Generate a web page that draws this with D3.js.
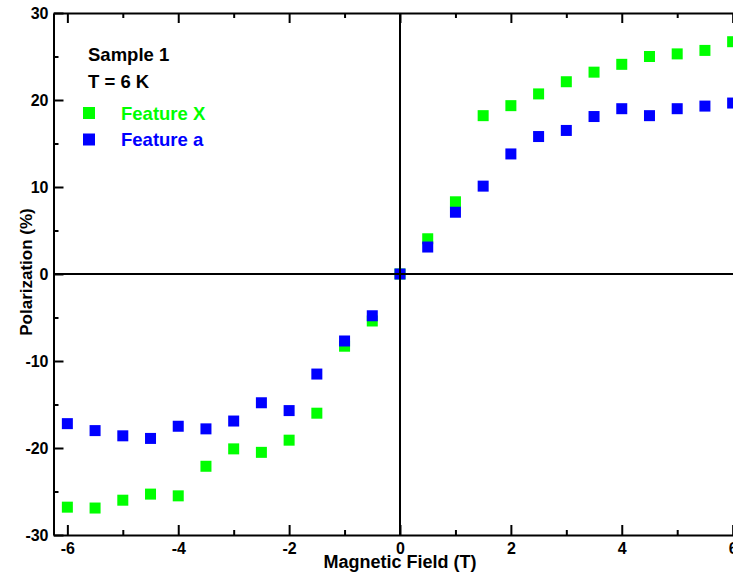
<!DOCTYPE html>
<html>
<head>
<meta charset="utf-8">
<script src="https://cdn.jsdelivr.net/npm/d3@7"></script>
<style>
  body { margin: 0; background: #fff; }
  svg { display: block; font-family: "Liberation Sans", Arial, sans-serif; font-weight: bold; }
</style>
</head>
<body>
<div id="chart"></div>
<script>
// field values (T)
const fields = [-6, -5.5, -5, -4.5, -4, -3.5, -3, -2.5, -2, -1.5, -1, -0.5, 0,
  0.5, 1, 1.5, 2, 2.5, 3, 3.5, 4, 4.5, 5, 5.5, 6];
// polarization (%)
const featureX = [-26.8, -26.9, -26.0, -25.3, -25.5, -22.1, -20.1, -20.5, -19.1, -16.0, -8.3, -5.4, 0,
  4.05, 8.3, 18.2, 19.35, 20.7, 22.1, 23.2, 24.1, 25.0, 25.3, 25.7, 26.7];
const featureA = [-17.2, -18.0, -18.6, -18.9, -17.5, -17.8, -16.9, -14.8, -15.7, -11.5, -7.7, -4.8, 0,
  3.1, 7.1, 10.1, 13.8, 15.8, 16.5, 18.1, 19.0, 18.2, 19.0, 19.3, 19.65];
const xMajor = [-6, -4, -2, 0, 2, 4, 6];
const xMinor = [-5, -3, -1, 1, 3, 5];
const yMajor = [-30, -20, -10, 0, 10, 20, 30];
const yMinor = [-25, -15, -5, 5, 15, 25];

const series = [
  { name: 'Feature X', color: '#00ff00', values: featureX },
  { name: 'Feature a', color: '#0000ff', values: featureA },
];

const width = 733, height = 576;
const x = d3.scaleLinear().domain([-6.25, 6.25]).range([53.5, 746.5]);
const y = d3.scaleLinear().domain([-30, 30]).range([535, 13]);
const sq = 11;
const fmt = d => String(d); // plain hyphen minus, like the original

const svg = d3.select('#chart').append('svg')
  .attr('width', width)
  .attr('height', height);

// markers (green first, blue on top)
series.forEach(s => {
  svg.append('g').selectAll('rect')
    .data(fields.map((f, i) => ({ f, v: s.values[i] })))
    .join('rect')
    .attr('x', d => x(d.f) - sq / 2)
    .attr('y', d => y(d.v) - sq / 2)
    .attr('width', sq)
    .attr('height', sq)
    .attr('fill', s.color);
});

// zero lines
svg.append('line')
  .attr('x1', x(0)).attr('x2', x(0))
  .attr('y1', y(30)).attr('y2', y(-30))
  .attr('stroke', '#000').attr('stroke-width', 2);
svg.append('line')
  .attr('x1', x.range()[0]).attr('x2', x.range()[1])
  .attr('y1', y(0)).attr('y2', y(0))
  .attr('stroke', '#000').attr('stroke-width', 2);

// axes: ticks point into the plot
function styleAxis(g) {
  g.selectAll('.domain').attr('stroke', '#000').attr('stroke-width', 2);
  g.selectAll('.tick line').attr('stroke', '#000').attr('stroke-width', 2);
  g.selectAll('.tick text').attr('fill', '#000')
    .attr('font-size', 16).attr('font-weight', 'bold')
    .attr('font-family', '"Liberation Sans", Arial, sans-serif');
}

const gBottom = svg.append('g').attr('transform', `translate(0,${y(-30)})`)
  .call(d3.axisBottom(x).tickValues(xMajor).tickSizeInner(-10).tickSizeOuter(0).tickFormat(fmt));
gBottom.call(styleAxis);
gBottom.selectAll('.tick text').attr('dy', '0.75em').attr('y', 7);
svg.append('g').attr('transform', `translate(0,${y(-30)})`)
  .call(d3.axisBottom(x).tickValues(xMinor).tickSizeInner(-5).tickSizeOuter(0).tickFormat(''))
  .call(styleAxis).select('.domain').remove();

const gTop = svg.append('g').attr('transform', `translate(0,${y(30)})`)
  .call(d3.axisTop(x).tickValues(xMajor).tickSizeInner(-10).tickSizeOuter(0).tickFormat(''));
gTop.call(styleAxis);
svg.append('g').attr('transform', `translate(0,${y(30)})`)
  .call(d3.axisTop(x).tickValues(xMinor).tickSizeInner(-5).tickSizeOuter(0).tickFormat(''))
  .call(styleAxis).select('.domain').remove();

const gLeft = svg.append('g').attr('transform', `translate(${x(-6.25)},0)`)
  .call(d3.axisLeft(y).tickValues(yMajor).tickSizeInner(-10).tickSizeOuter(0).tickFormat(fmt));
gLeft.call(styleAxis);
gLeft.selectAll('.tick text').attr('x', -5);
svg.append('g').attr('transform', `translate(${x(-6.25)},0)`)
  .call(d3.axisLeft(y).tickValues(yMinor).tickSizeInner(-5).tickSizeOuter(0).tickFormat(''))
  .call(styleAxis).select('.domain').remove();

// axis titles
svg.append('text')
  .attr('x', 400).attr('y', 568)
  .attr('text-anchor', 'middle')
  .attr('font-size', 18)
  .text('Magnetic Field (T)');
svg.append('text')
  .attr('transform', 'translate(32,272) rotate(-90)')
  .attr('text-anchor', 'middle')
  .attr('font-size', 17)
  .text('Polarization (%)');

// legend
const legend = svg.append('g');
legend.append('text').attr('x', 88).attr('y', 61).attr('font-size', 18.5).text('Sample 1');
legend.append('text').attr('x', 88).attr('y', 88).attr('font-size', 18.5).text('T = 6 K');
series.forEach((s, i) => {
  const cy = 113 + i * 26.5;
  legend.append('rect')
    .attr('x', 89 - 6).attr('y', cy - 6)
    .attr('width', 12).attr('height', 12)
    .attr('fill', s.color);
  legend.append('text')
    .attr('x', 121).attr('y', cy + 6.5)
    .attr('font-size', 18.5)
    .attr('fill', s.color)
    .text(s.name);
});
</script>
</body>
</html>
